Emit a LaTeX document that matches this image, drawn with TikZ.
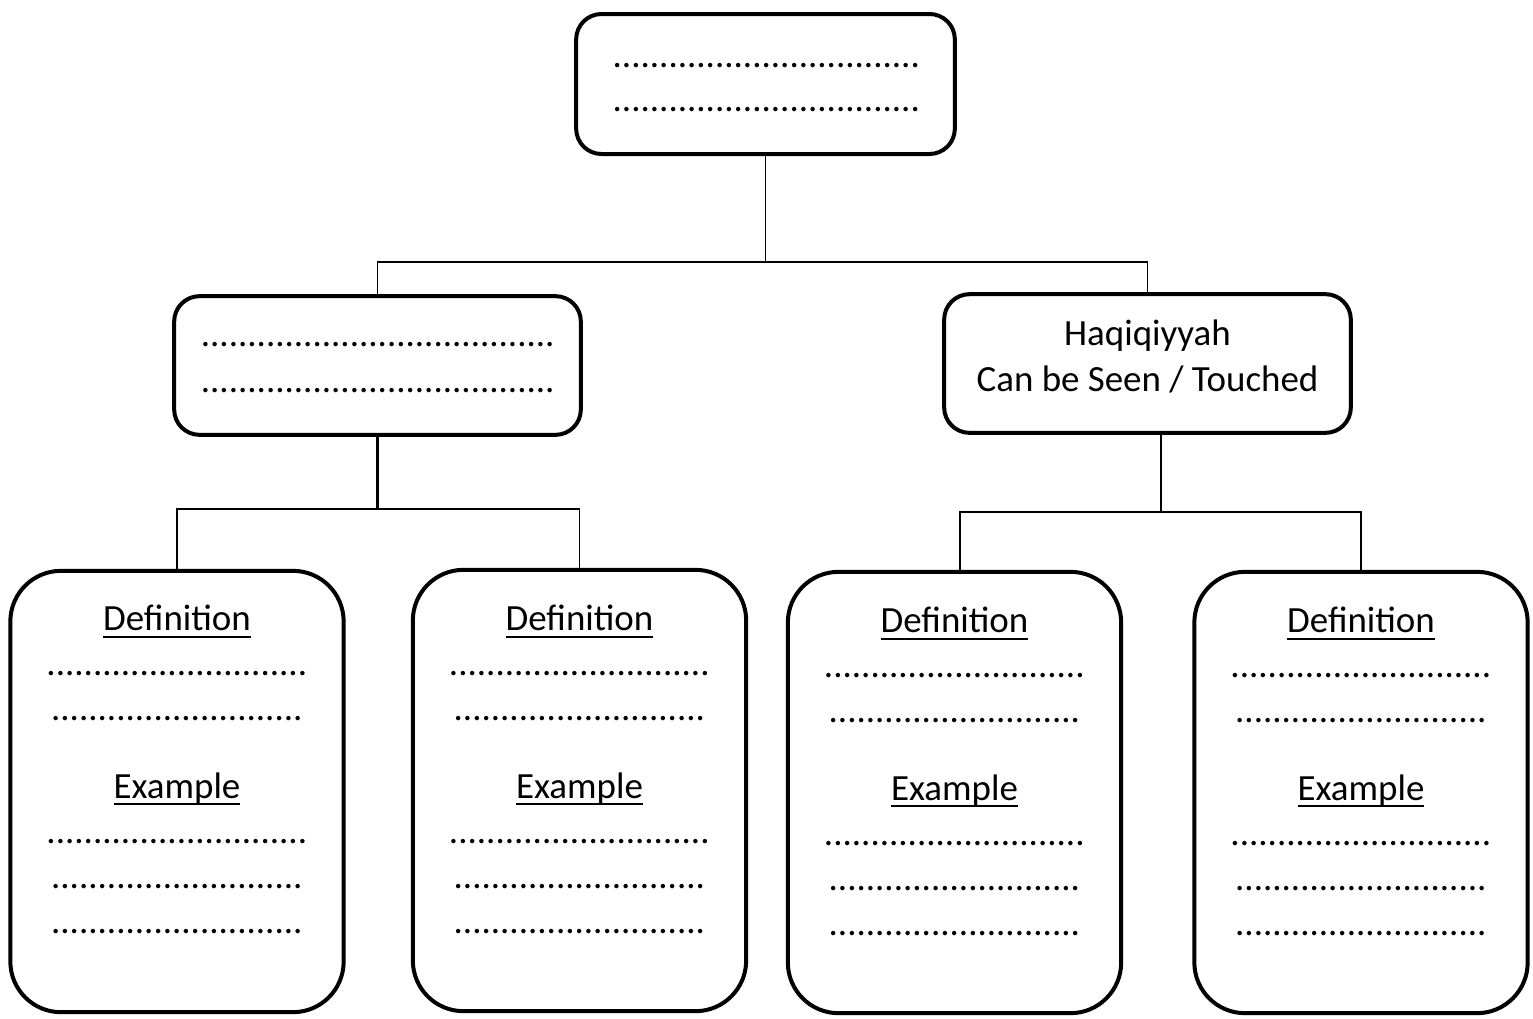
\documentclass[tikz,border=0pt]{standalone}
\usepackage{fontspec}
\setmainfont{Carlito}
\newcommand\myul[1]{\setbox0\hbox{#1}\rlap{\rule[-5.5pt]{\wd0}{1.6pt}}\box0}
\newcommand\pten{..........}
\newcommand\dotsTop{\pten\pten\pten...}
\newcommand\dotsMid{\pten\pten\pten........}
\newcommand\dotsA{\pten\pten........}
\newcommand\dotsB{\pten\pten.......}
\newcommand\cardtext{\myul{Definition}\\ \dotsA\\ \dotsB\\[24pt] \myul{Example}\\ \dotsA\\ \dotsB\\ \dotsB}
\begin{document}
\begin{tikzpicture}[x=0.75pt,y=-0.75pt,
  box/.style={draw, line width=3pt, rounded corners=19pt, inner sep=0pt},
  boxtxt/.style={align=center, inner sep=0pt},
  card/.style={draw, line width=3pt, rounded corners=38pt, minimum width=250pt, minimum height=331pt},
  cardtxt/.style={align=center, inner sep=0pt, anchor=north, font=\fontsize{27.7}{33.8}\selectfont},
  link/.style={line width=1.4pt},
  thicklink/.style={line width=2.2pt}]
\useasboundingbox (0,0) rectangle (1533,1018);
% top level
\node[box, minimum width=284pt, minimum height=105pt] (top) at (765.5,84) {};
\node[boxtxt, font=\fontsize{27.7}{33}\selectfont] (topt) at (766.5,88) {\dotsTop\\ \dotsTop};
% middle level
\node[box, minimum width=305pt, minimum height=104pt] (midL) at (377.5,365.5) {};
\node[boxtxt, font=\fontsize{27.7}{34.5}\selectfont] (midLt) at (378,368) {\dotsMid\\ \dotsMid};
\node[box, minimum width=305pt, minimum height=104pt] (midR) at (1147.5,363.5) {};
\node[boxtxt, font=\fontsize{27.7}{34.5}\selectfont] (midRt) at (1147.5,356) {Haqiqiyyah\\ Can be Seen / Touched};
% cards
\node[card] (c1) at (177,791.5) {};
\node[card] (c2) at (579.5,790.5) {};
\node[card] (c3) at (954.5,792.5) {};
\node[card] (c4) at (1361,792.5) {};
\node[cardtxt] (t1) at (177,605) {\cardtext};
\node[cardtxt] (t2) at (579.5,605) {\cardtext};
\node[cardtxt] (t3) at (954.5,607) {\cardtext};
\node[cardtxt] (t4) at (1361,607) {\cardtext};
% connectors
\coordinate (h1) at (0,262);
\coordinate (h2) at (0,509);
\coordinate (h3) at (0,512);
\draw[link] (top.south) -- (top.south |- h1);
\draw[link] (midL.north) -- (midL.north |- h1) -- (midR.north |- h1) -- (midR.north);
\draw[thicklink] (midL.south) -- (midL.south |- h2);
\draw[link] (c1.north) -- (c1.north |- h2) -- (c2.north |- h2) -- (c2.north);
\draw[link] ([xshift=10pt]midR.south) -- ([xshift=10pt]midR.south |- h3);
\draw[link] ([xshift=4pt]c3.north) -- ([xshift=4pt]c3.north |- h3) -- (c4.north |- h3) -- (c4.north);
\end{tikzpicture}
\end{document}
